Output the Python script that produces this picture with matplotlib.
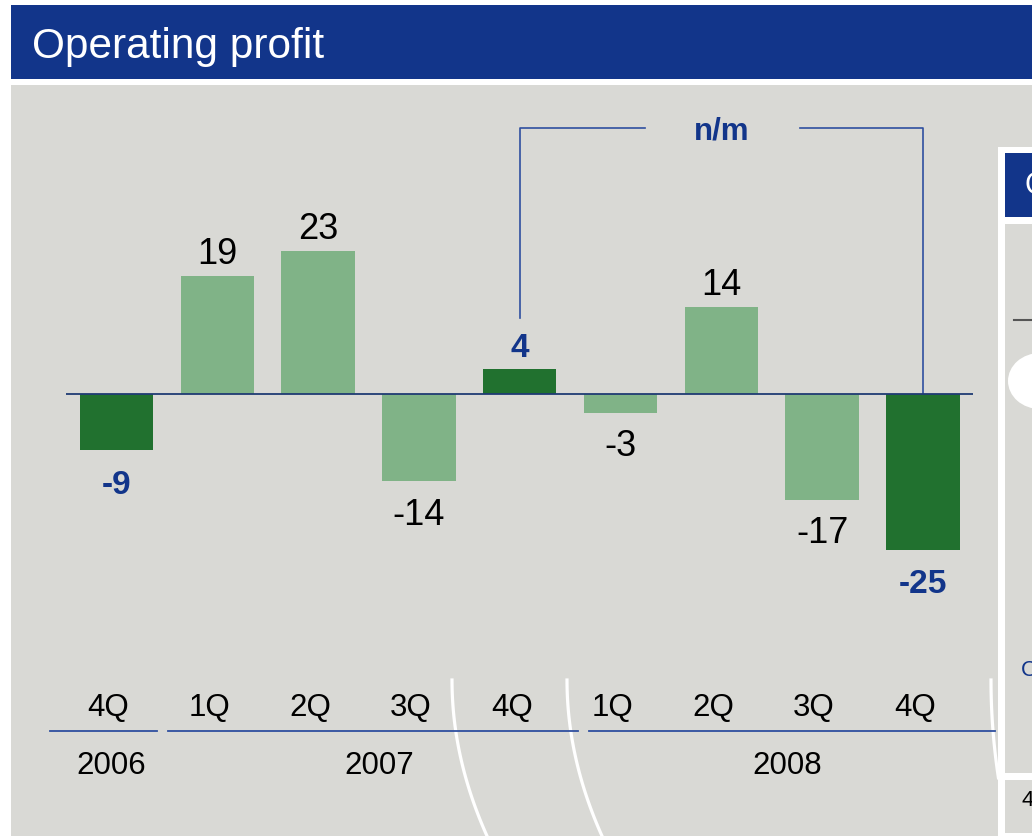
import matplotlib.pyplot as plt
from matplotlib.patches import Rectangle, Ellipse
from matplotlib.lines import Line2D
import numpy as np

plt.rcParams['font.family'] = ['Liberation Sans', 'DejaVu Sans']

# data
quarters = ["4Q", "1Q", "2Q", "3Q", "4Q", "1Q", "2Q", "3Q", "4Q"]
profit = [-9, 19, 23, -14, 4, -3, 14, -17, -25]
highlight = [True, False, False, False, True, False, False, False, True]
years = ["2006", "2007", "2008"]
nm_from, nm_to = 4, 8
nm_text = "n/m"

# colours
NAVY = "#12358a"
LINE_BLUE = "#2f4f9f"
DARK_GREEN = "#21712f"
LIGHT_GREEN = "#80b387"
PANEL = "#d9d9d5"

W, H = 1032, 836
fig = plt.figure(figsize=(W / 100, H / 100), dpi=100)
fig.patch.set_facecolor("white")


def fx(x):
    return x / W


def fy(y):
    return 1 - y / H


def rect(x0, y0, x1, y1, color, z=-5):
    fig.add_artist(Rectangle((fx(x0), fy(y1)), fx(x1) - fx(x0), fy(y0) - fy(y1),
                             transform=fig.transFigure, facecolor=color,
                             edgecolor="none", zorder=z))


# slide background pieces
rect(11, 5, W, 79, NAVY)
rect(11, 85, W, H, PANEL)
fig.text(fx(32), fy(58), "Operating profit", color="white", fontsize=30.5,
         va="baseline", ha="left")

# partly visible panel on the right
rect(998, 147, W, H, "white", z=-4)
rect(1005, 153, W, 217, NAVY, z=-3)
rect(1005, 224, W, 773, PANEL, z=-3)
rect(1005, 780, W, 833, PANEL, z=-3)
fig.add_artist(Line2D([fx(1014), fx(W)], [fy(320), fy(320)], color="#555555",
                      lw=1.5, transform=fig.transFigure, zorder=-2))
fig.add_artist(Ellipse((fx(1040), fy(381)), 64 / W, 56 / H, facecolor="white",
                       edgecolor="none", transform=fig.transFigure, zorder=-2))
fig.text(fx(1024), fy(186), "O", color="white", fontsize=22, va="center")
fig.text(fx(1021), fy(670), "C", color=NAVY, fontsize=16, va="center")
fig.text(fx(1021), fy(801), "4", color="black", fontsize=16, va="center")

# white decorative arcs
yy = np.linspace(680, 836, 60)
for x0, k, ymax in [(452, 35 / 156 ** 2, 836), (567, 35 / 156 ** 2, 836), (991, 7 / 95 ** 2, 778)]:
    ys = yy[yy <= ymax]
    fig.add_artist(Line2D(fx(x0 + k * (ys - 680) ** 2), fy(ys), color="white", lw=2.3,
                          transform=fig.transFigure, zorder=-1))

# chart axes: x = category index, y = profit value
step = 100.8
unit = 6.22
zero_px = 394
left_px = 116.5 - 0.5 * step
ax = fig.add_axes([fx(left_px), 0, 9 * step / W, 1])
ax.set_xlim(-0.5, 8.5)
ax.set_ylim(-(H - zero_px) / unit, zero_px / unit)
ax.axis("off")
ax.patch.set_visible(False)

x = np.arange(len(profit))
colors = [DARK_GREEN if h else LIGHT_GREEN for h in highlight]
ax.bar(x, profit, width=0.73, color=colors, edgecolor="none", zorder=2)
ax.axhline(0, color="#1f3b73", lw=1.3, zorder=3)

for i, v in enumerate(profit):
    if highlight[i]:
        kw = dict(color=NAVY, fontsize=24, fontweight="bold")
    else:
        kw = dict(color="black", fontsize=26)
    off = 8.6 if v > 0 else -31.5
    ax.annotate(str(v), (i, v), xytext=(0, off), textcoords="offset points",
                ha="center", va="baseline", **kw)


def val(y_px):
    return (zero_px - y_px) / unit


# quarter labels and year groups
for i, q in enumerate(quarters):
    ax.annotate(q, (i, val(716)), xytext=(-5.8, 0), textcoords="offset points",
                ha="center", va="baseline", fontsize=22.5, annotation_clip=False)

seg_left = [-0.66, 0.51, 4.69]
seg_right = [0.40, 4.58, 8.72]
year_pos = [-0.05, 2.61, 6.65]
for yr, a, b, p in zip(years, seg_left, seg_right, year_pos):
    ax.plot([a, b], [val(731), val(731)], color=LINE_BLUE, lw=1.3, clip_on=False)
    ax.text(p, val(774), yr, ha="center", va="baseline", fontsize=22.5)

# n/m bracket
top = val(128)
mid = (nm_from + nm_to) / 2
ax.plot([nm_from, nm_from, mid - 0.76], [val(318), top, top], color=LINE_BLUE, lw=1.2)
ax.plot([mid + 0.78, nm_to, nm_to], [top, top, 0], color=LINE_BLUE, lw=1.2)
ax.text(mid, val(131), nm_text, ha="center", va="center", color=NAVY,
        fontsize=22.5, fontweight="bold")

fig.savefig("out.png", dpi=100)
